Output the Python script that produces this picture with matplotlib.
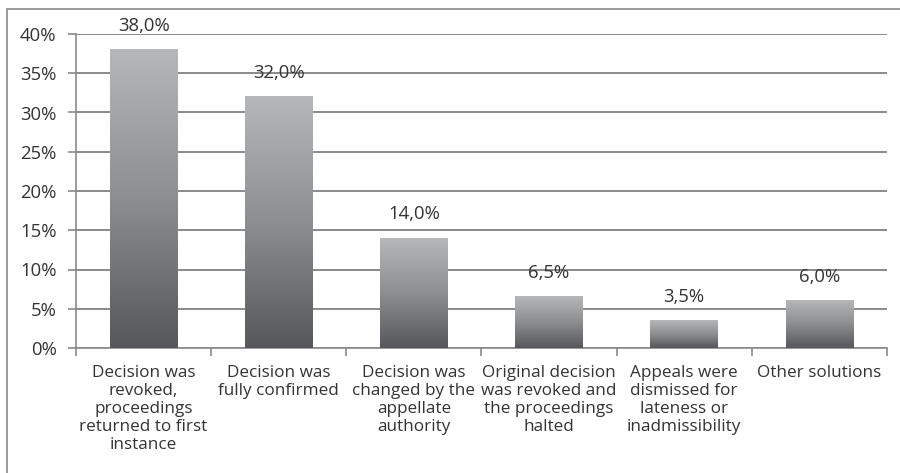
import matplotlib
matplotlib.use("Agg")
import matplotlib.pyplot as plt
import numpy as np
from matplotlib.patches import Rectangle
from matplotlib.colors import LinearSegmentedColormap

categories = [
    "Decision was\nrevoked,\nproceedings\nreturned to first\ninstance",
    "Decision was\nfully confirmed",
    "Decision was\nchanged by the\nappellate\nauthority",
    "Original decision\nwas revoked and\nthe proceedings\nhalted",
    "Appeals were\ndismissed for\nlateness or\ninadmissibility",
    "Other solutions",
]
values = [38.0, 32.0, 14.0, 6.5, 3.5, 6.0]
value_labels = ["38,0%", "32,0%", "14,0%", "6,5%", "3,5%", "6,0%"]
yticks = [0, 5, 10, 15, 20, 25, 30, 35, 40]
ytick_labels = ["0%", "5%", "10%", "15%", "20%", "25%", "30%", "35%", "40%"]

plt.rcParams['font.family'] = ['Open Sans', 'DejaVu Sans']
txt = '#333333'

fig = plt.figure(figsize=(9, 4.73), dpi=100)
# outer frame
fig.patches.append(Rectangle((7/900, -0.1), 1.0, 1 - 9/473 + 0.1, transform=fig.transFigure,
                             fill=False, edgecolor='#8a8a8a', linewidth=1.2))
ax = fig.add_axes([76/900, 1 - 348/473, (887-76)/900, (348-34)/473])

x = np.arange(len(values))
bars = ax.bar(x, values, width=0.5, color='none', zorder=3)
grad = np.linspace(0, 1, 256).reshape(-1, 1)
cmap = LinearSegmentedColormap.from_list('g', ['#55575a', '#8c8e90', '#b5b7b9'])
for b in bars:
    x0, y0 = b.get_x(), b.get_y()
    w, h = b.get_width(), b.get_height()
    ax.imshow(grad, cmap=cmap, origin='lower', aspect='auto',
              extent=(x0, x0 + w, y0, y0 + h), zorder=3, interpolation='bilinear')

for xi, v, lab in zip(x, values, value_labels):
    ax.text(xi, v + 1.9, lab, ha='center', va='bottom', fontsize=13.3, color=txt, zorder=4)

ax.set_xlim(-0.5, len(values) - 0.5)
ax.set_ylim(0, 40)
ax.set_yticks(yticks)
ax.set_yticklabels(ytick_labels, fontsize=13.3, color=txt)
ax.yaxis.grid(True, color='#8a8a8a', linewidth=1.4, zorder=0)
ax.set_axisbelow(True)
ax.set_xticks(np.arange(len(values) + 1) - 0.5, minor=False)
ax.set_xticklabels([])
ax.tick_params(axis='x', length=6, color='#8a8a8a', width=1.2)
ax.tick_params(axis='y', length=6, color='#8a8a8a', width=1.2, pad=8)
for xi, c in zip(x, categories):
    ax.text(xi, -2.2, c, ha='center', va='top', fontsize=12.3, color=txt, linespacing=1.17)
for s in ['top', 'right']:
    ax.spines[s].set_visible(False)
for s in ['left', 'bottom']:
    ax.spines[s].set_color('#8a8a8a')
    ax.spines[s].set_linewidth(1.2)

fig.savefig('out.png', dpi=100)
